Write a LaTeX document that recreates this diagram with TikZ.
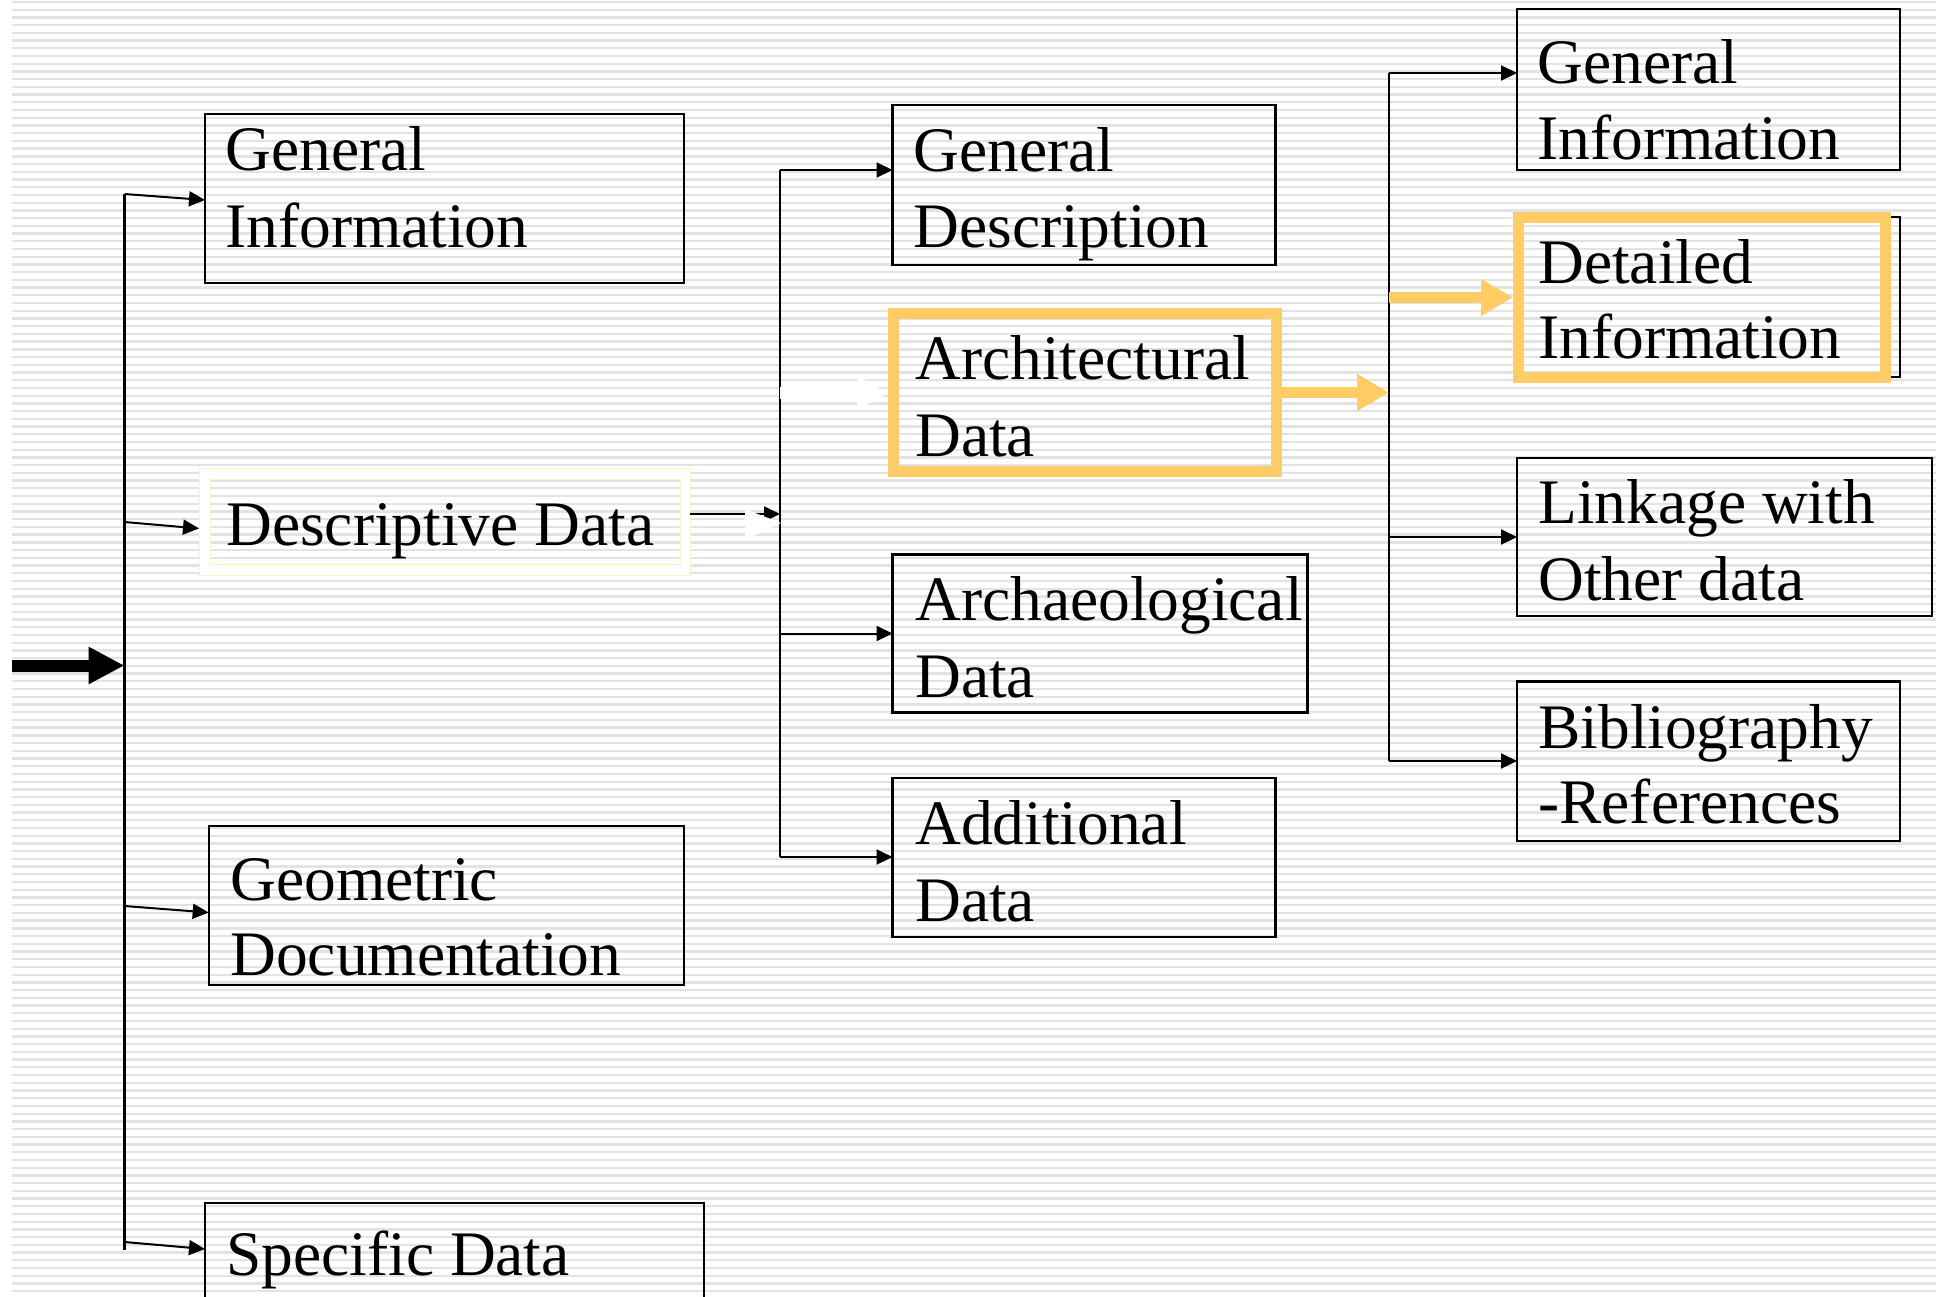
\documentclass[tikz,border=0pt]{standalone}
\usepackage{fontspec}
\setmainfont{Liberation Serif}
\usetikzlibrary{arrows.meta}
\definecolor{stripe}{HTML}{E3E3E3}
\definecolor{hl}{HTML}{FFCC66}
\definecolor{pale}{HTML}{FFF2C8}
\begin{document}
\begin{tikzpicture}[x=0.5pt,y=-0.5pt,
  box/.style={draw=black, line width=1.1pt, rectangle, inner sep=0pt, outer sep=0pt, anchor=north west},
  hlbox/.style={draw=hl, line width=5.5pt, rectangle, inner sep=0pt, outer sep=0pt, anchor=north west},
  lbl/.style={anchor=base west, inner sep=0pt, font=\fontsize{31.7}{38}\selectfont},
  conn/.style={line width=1pt, -{Triangle[length=8pt,width=7.5pt]}},
  trunk/.style={line width=1.1pt},
  fat/.style={line width=5.5pt, -{Triangle[length=16pt,width=17.5pt]}},
]
\useasboundingbox (0,0) rectangle (1936,1296);
\fill[white] (0,0) rectangle (1936,1296);
\foreach \i in {0,...,168} {\fill[stripe] (12,{0.8+\i*7.72}) rectangle (1936,{3.1+\i*7.72});}

% ---------- column 1 ----------
\node[box, minimum width=239.5pt, minimum height=84.5pt] (gi1) at (205,114) {};
\node[lbl] (gi1a) at (225,170) {General};
\node[lbl] (gi1b) at (225,247) {Information};

\node[draw=pale, line width=0.5pt, rectangle, inner sep=0pt, outer sep=0pt, anchor=north west,
      minimum width=245.5pt, minimum height=53.5pt] (desc) at (199,468) {};
\fill[white, even odd rule] (desc.north west) rectangle (desc.south east) (210,479) rectangle (680,564);
\draw[pale, line width=0.5pt] (desc.north west) rectangle (desc.south east);
\draw[pale, line width=0.5pt] (210,479) rectangle (680,564);
\node[lbl] (desca) at (226,545) {Descriptive Data};

\node[box, minimum width=237.6pt, minimum height=79.5pt] (geo) at (208.7,826) {};
\node[lbl] (geoa) at (230,900) {Geometric};
\node[lbl] (geob) at (230,975) {Documentation};

\node[box, minimum width=249.5pt, minimum height=58.5pt] (spec) at (205,1203) {};
\node[lbl] (speca) at (226,1275) {Specific Data};

\coordinate (t1top) at (124.5,194);
\coordinate (t1bot) at (124.5,1250);
\coordinate (t1mid) at (124.5,665.5);
\coordinate (t1d) at (124.5,522);
\coordinate (t1g) at (124.5,906);
\coordinate (t1s) at (124.5,1242);
\coordinate (src) at (12,665.5);
\draw[trunk] (t1top) -- (t1bot);
\draw[conn] (t1top) -- (gi1.west |- 0,200);
\draw[conn] (t1d) -- (desc.west |- 0,528.5);
\draw[conn] (t1g) -- (geo.west |- 0,912.5);
\draw[conn] (t1s) -- (spec.west |- 0,1249);
\draw[line width=6pt, -{Triangle[length=18pt,width=17.5pt]}] (src) -- (t1mid);

% ---------- column 2 ----------
\node[box, minimum width=191.5pt, minimum height=80pt] (gd) at (892.5,105) {};
\node[lbl] (gda) at (913,171) {General};
\node[lbl] (gdb) at (913,247) {Description};

\node[hlbox, minimum width=191.5pt, minimum height=79pt] (arch) at (893.5,313.5) {};
\node[lbl] (archa) at (915,379) {Architectural};
\node[lbl] (archb) at (915,456) {Data};

\node[box, minimum width=207.5pt, minimum height=79pt] (archaeo) at (892.5,554.5) {};
\node[lbl] (archaeoa) at (915,620) {Archaeological};
\node[lbl] (archaeob) at (915,697) {Data};

\node[box, minimum width=191.5pt, minimum height=79.5pt] (addl) at (892.5,778) {};
\node[lbl] (addla) at (915,844) {Additional};
\node[lbl] (addlb) at (915,921) {Data};

\coordinate (t2top) at (780,170);
\coordinate (t2bot) at (780,857);
\coordinate (t2a) at (780,393);
\coordinate (t2c) at (780,633.5);
\coordinate (t2in) at (780,514);
\coordinate (archin) at (888,393);
\draw[trunk] (t2top) -- (t2bot);
\draw[conn] (t2top) -- (gd.west |- t2top);
\draw[conn] (t2c) -- (archaeo.west |- t2c);
\draw[conn] (t2bot) -- (addl.west |- t2bot);
\draw[white, line width=6pt, -{Triangle[length=15.5pt,width=16pt]}] (t2a) -- (archin);
% descriptive -> trunk 2
\draw[conn] (desc.east |- t2in) -- (t2in);
\fill[white] (745,509) -- (781,523) -- (745,540) -- cycle;

% ---------- column 3 ----------
\node[box, minimum width=191.5pt, minimum height=80.5pt] (gi3) at (1517,9) {};
\node[lbl] (gi3a) at (1537,83) {General};
\node[lbl] (gi3b) at (1537,159) {Information};

\node[box, minimum width=191.5pt, minimum height=80pt] (det) at (1517,217) {};
\node[hlbox, minimum width=183.75pt, minimum height=80pt] (deto) at (1518,217.5) {};
\node[lbl] (deta) at (1538,283) {Detailed};
\node[lbl] (detb) at (1538,358) {Information};

\node[box, minimum width=207.5pt, minimum height=79pt] (link) at (1517,458) {};
\node[lbl] (linka) at (1538,523) {Linkage with};
\node[lbl] (linkb) at (1538,600) {Other data};

\node[box, minimum width=191.5pt, minimum height=79.75pt] (bib) at (1517,681.5) {};
\node[lbl] (biba) at (1538,748) {Bibliography};
\node[lbl] (bibb) at (1538,823) {-References};

\coordinate (t3top) at (1389,73);
\coordinate (t3bot) at (1389,761);
\coordinate (t3in) at (1389,392.5);
\coordinate (t3d) at (1389,297.5);
\coordinate (t3l) at (1389,537);
\coordinate (detin) at (1513,297.5);
\draw[trunk] (t3top) -- (t3bot);
\draw[conn] (t3top) -- (gi3.west |- t3top);
\draw[conn] (t3l) -- (link.west |- t3l);
\draw[conn] (t3bot) -- (bib.west |- t3bot);
\draw[hl, fat] (arch.east |- t3in) -- (t3in);
\draw[hl, fat] (t3d) -- (detin);
\end{tikzpicture}
\end{document}
